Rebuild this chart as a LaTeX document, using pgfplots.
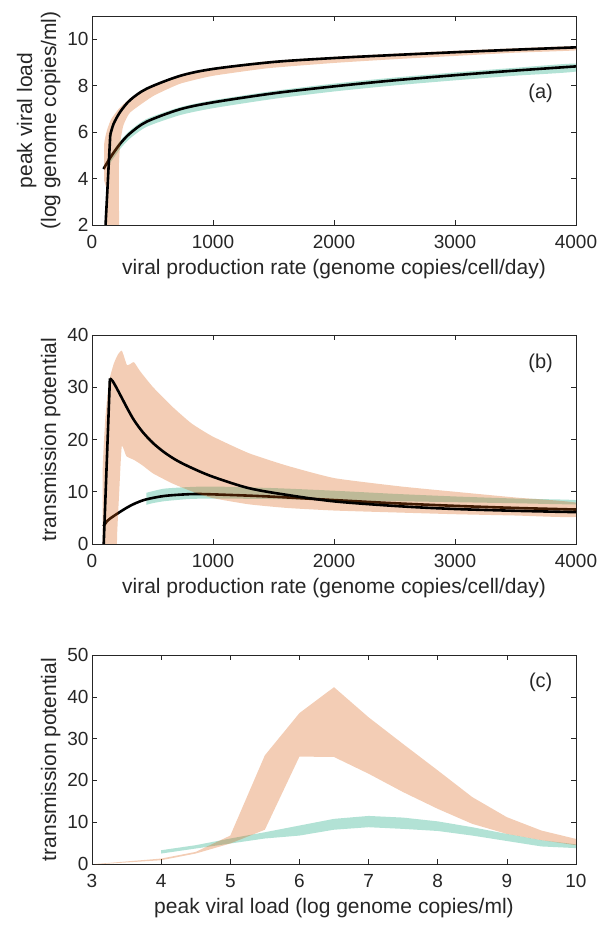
\documentclass[border=0pt]{standalone}
\usepackage{fontspec}
\setmainfont{Liberation Sans}
\usepackage{pgfplots}
\pgfplotsset{compat=1.18}
\definecolor{axgray}{RGB}{38,38,38}
\definecolor{orng}{RGB}{215,90,10}
\definecolor{grn}{RGB}{0,160,115}
\pgfplotsset{
  myaxis/.style={
    width=484bp, height=209bp, scale only axis,
    anchor=south west,
    axis line style={axgray, line width=0.6bp},
    tick style={axgray, line width=0.6bp},
    major tick length=5bp,
    tick align=inside,
    xtick pos=both, ytick pos=both,
    xticklabel pos=lower, yticklabel pos=left,
    ticklabel style={font=\fontsize{19bp}{21bp}\selectfont, text=axgray},
    xticklabel style={yshift=-7bp},
    label style={font=\fontsize{21bp}{24bp}\selectfont, text=axgray},
    xlabel style={yshift=-3bp},
    /pgf/number format/assume math mode=true,
    /pgf/number format/1000 sep={},
    scaled ticks=false,
  },
  oband/.style={fill=orng, fill opacity=0.3, draw=none},
  gband/.style={fill=grn, fill opacity=0.3, draw=none},
  bline/.style={black, line width=2.6bp},
}
\begin{document}
\begin{tikzpicture}
\useasboundingbox (0,0) rectangle (599bp,926bp);
% ---------------- panel (a)
\begin{axis}[myaxis, at={(92bp,701bp)},
  xmin=0, xmax=4000, ymin=2, ymax=11,
  xtick={0,1000,2000,3000,4000}, ytick={2,4,6,8,10},
  xlabel={viral production rate (genome copies/cell/day)},
  ylabel={peak viral load\\(log genome copies/ml)},
  ylabel style={align=center}]
\addplot[gband, smooth, tension=0.4] coordinates {
 (130,4.75) (151,5.02) (233,5.62) (315,6.07) (452,6.57) (726,7.07) (1000,7.37) (1500,7.77) (2000,8.09) (2500,8.35) (3000,8.57) (3500,8.77) (4000,8.95)
 (4000,8.61) (3500,8.43) (3000,8.23) (2500,8.01) (2000,7.75) (1500,7.43) (1000,7.03) (726,6.73) (452,6.23) (315,5.73) (233,5.28) (151,4.68) (130,4.45)} -- cycle;
\addplot[bline, smooth, tension=0.5] coordinates {
 (95,4.41) (151,4.9) (233,5.5) (315,5.95) (452,6.45) (726,6.98) (1000,7.28) (1500,7.67) (2000,7.97) (2500,8.23) (3000,8.45) (3500,8.65) (4000,8.83)};
\addplot[oband, smooth, tension=0.3] coordinates {
 (101,3.9) (101,5.5) (125,6.1) (158,6.55) (221,7.0) (316,7.45) (505,7.98) (726,8.45) (995,8.76) (1452,9.05) (2005,9.24) (2500,9.38) (2999,9.5) (3500,9.61) (4000,9.7)
 (4000,9.52) (3500,9.42) (2999,9.28) (2500,9.14) (2005,8.98) (1452,8.75) (995,8.42) (726,8.08) (505,7.55) (316,6.85) (260,6.3) (235,5.6) (222,4.5) (219,1.0) (123,1.0) (118,3.6)} -- cycle;
\addplot[bline] coordinates {(107,1.5) (151,5.88)};
\addplot[bline, smooth, tension=0.5] coordinates {
 (151,5.88) (178,6.35) (233,6.87) (315,7.38) (452,7.87) (726,8.42) (1000,8.72) (1500,9.02) (2000,9.19) (2500,9.32) (3000,9.44) (3500,9.55) (4000,9.65)};
\node[font=\fontsize{20bp}{22bp}\selectfont, text=axgray] at (rel axis cs:0.927,0.63) {(a)};
\end{axis}
% ---------------- panel (b)
\begin{axis}[myaxis, at={(92bp,382bp)},
  xmin=0, xmax=4000, ymin=0, ymax=40,
  xtick={0,1000,2000,3000,4000}, ytick={0,10,20,30,40},
  xlabel={viral production rate (genome copies/cell/day)},
  ylabel={transmission potential}]
\addplot[gband, smooth, tension=0.4] coordinates {
 (450,9.8) (500,10.1) (600,10.6) (800,10.9) (1000,11.0) (1500,10.7) (2000,10.2) (2500,9.6) (3000,9.1) (3500,8.7) (4000,8.4)
 (4000,7.6) (3500,7.8) (3000,8.0) (2500,8.2) (2000,8.4) (1500,8.6) (1000,8.7) (800,8.6) (600,8.2) (500,7.8) (450,7.5)} -- cycle;
\addplot[bline, smooth, tension=0.5] coordinates {
 (95,3.4) (130,4.5) (189,5.5) (284,6.9) (350,7.7) (442,8.5) (600,9.2) (821,9.55) (995,9.5) (1452,9.1) (2005,8.4) (2500,7.8) (2999,7.3) (3500,6.9) (4000,6.6)};
\addplot[oband, smooth, tension=0.3] coordinates {
 (88,-2) (88,14) (110,24) (140,31) (180,34.5) (215,36.3) (246,37.0) (270,35.5) (290,34.2) (320,34.5) (347,34.8) (400,33) (505,30.0) (663,26.3) (821,23.1) (995,20.6) (1294,17.4) (1610,15.0) (2005,12.6) (2557,11.0) (2999,10.0) (3500,8.9) (4000,7.9)
 (4000,5.2) (3500,5.45) (2999,5.7) (2557,6.0) (2005,6.4) (1610,6.9) (1294,7.6) (995,8.8) (821,10.1) (663,11.6) (505,13.5) (420,15.0) (347,16.1) (284,16.8) (246,18.7) (225,10) (208,2) (205,-2)} -- cycle;
\addplot[bline] coordinates {(92,-3) (148,31.7)};
\addplot[bline, smooth, tension=0.5] coordinates {
 (148,31.7) (170,31.2) (200,30.0) (250,27.8) (300,25.6) (350,23.6) (420,21.4) (505,19.3) (600,17.5) (700,16.0) (821,14.6) (995,12.9) (1294,10.7) (1610,9.4) (2005,8.15) (2557,7.2) (2999,6.7) (3500,6.35) (4000,6.1)};
\node[font=\fontsize{20bp}{22bp}\selectfont, text=axgray] at (rel axis cs:0.927,0.865) {(b)};
\end{axis}
% ---------------- panel (c)
\begin{axis}[myaxis, at={(92bp,62bp)},
  xmin=3, xmax=10, ymin=0, ymax=50,
  xtick={3,4,5,6,7,8,9,10}, ytick={0,10,20,30,40,50},
  xlabel={peak viral load (log genome copies/ml)},
  ylabel={transmission potential}]
\addplot[gband] coordinates {
 (4.0,3.3) (4.5,4.5) (5.0,6.1) (5.5,7.6) (6.0,9.2) (6.5,10.8) (7.0,11.5) (7.5,11.1) (8.0,10.2) (8.5,8.8) (9.0,7.2) (9.5,5.7) (10,4.7)
 (10,3.8) (9.5,4.2) (9.0,5.5) (8.5,6.8) (8.0,7.9) (7.5,8.4) (7.0,8.8) (6.5,8.2) (6.0,6.8) (5.5,6.1) (5.0,4.9) (4.5,3.7) (4.0,2.5)} -- cycle;
\addplot[oband] coordinates {
 (3.05,0) (4.0,1.3) (4.5,2.9) (5.0,6.8) (5.5,26.0) (6.0,36.1) (6.5,42.3) (7.0,35.1) (7.5,28.7) (8.0,22.4) (8.5,16.0) (9.0,11.2) (9.5,8.0) (10,6.0)
 (10,4.5) (9.5,5.7) (9.0,7.2) (8.5,9.6) (8.0,13.2) (7.5,17.2) (7.0,21.6) (6.5,25.6) (6.0,25.7) (5.5,8.2) (5.0,4.9) (4.5,2.5) (4.0,0.9) (3.05,-0.1)} -- cycle;
\node[font=\fontsize{20bp}{22bp}\selectfont, text=axgray] at (rel axis cs:0.927,0.87) {(c)};
\end{axis}
\end{tikzpicture}
\end{document}
